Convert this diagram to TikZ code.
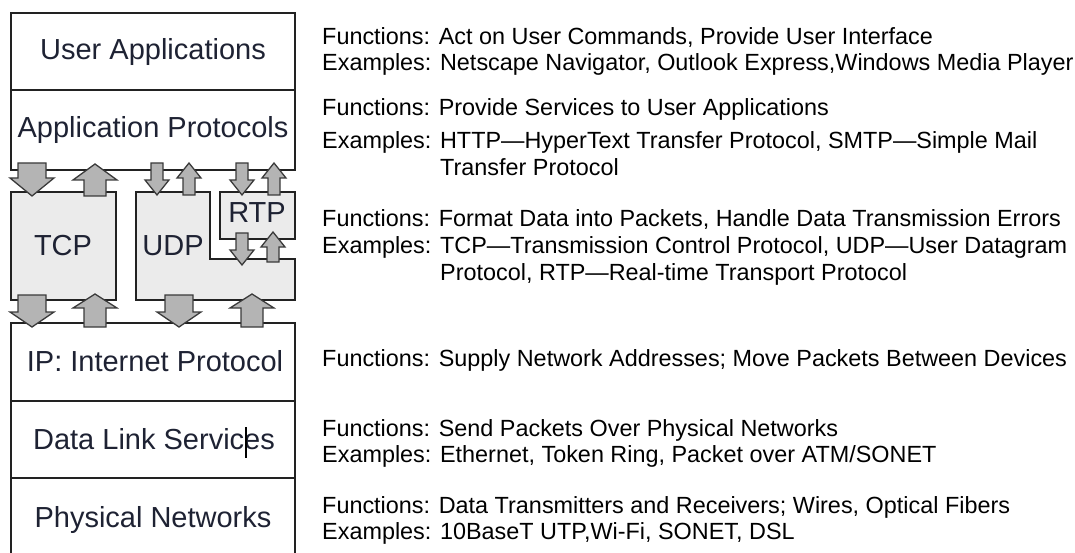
\documentclass[tikz,border=0pt]{standalone}
\usepackage{fontspec}
\setmainfont{Liberation Sans}
\definecolor{linec}{HTML}{222222}
\definecolor{boxfill}{HTML}{EBEBEB}
\definecolor{arrowfill}{HTML}{B4B4B4}
\definecolor{arrowline}{HTML}{3A3A3A}
\definecolor{labelc}{HTML}{1E2233}
\newcommand\blkarrow[6]{%
  \draw[barrow] (#1-#5,#2) -- (#1+#5,#2) -- (#1+#5,#3) -- (#1+#6,#3) -- (#1,#4) -- (#1-#6,#3) -- (#1-#5,#3) -- cycle;}
\begin{document}
\begin{tikzpicture}[x=1pt,y=-1pt,
  box/.style={draw=linec, line width=1.8pt},
  proto/.style={draw=linec, fill=boxfill, line width=1.8pt},
  lbl/.style={font=\fontsize{29}{33}\selectfont, text=labelc, inner sep=0pt, anchor=base},
  desc/.style={font=\fontsize{23.4}{27}\selectfont, text=black, inner sep=0pt, anchor=base west},
  barrow/.style={draw=arrowline, fill=arrowfill, line width=1.3pt, line join=miter}]
\useasboundingbox (0,0) rectangle (1075,553);
% stack boxes
\draw[box] (11,13) rectangle (295,170);
\draw[box] (11,90) -- (295,90);
\draw[box] (11,553) -- (11,323) -- (295,323) -- (295,553);
\draw[box] (11,401) -- (295,401);
\draw[box] (11,478) -- (295,478);
% transport boxes
\draw[proto] (11,192) rectangle (116,300);
\draw[proto] (136,192) -- (210,192) -- (210,259) -- (295,259) -- (295,300) -- (136,300) -- cycle;
\draw[proto] (220,192) rectangle (295,239);
% block arrows
\blkarrow{32}{163}{178}{196}{14}{22}
\blkarrow{95}{196}{180}{164}{11}{22}
\blkarrow{32}{295}{312}{327}{14}{22}
\blkarrow{95}{327}{308}{294}{11}{22}
\blkarrow{179}{295}{312}{327}{14}{22}
\blkarrow{252}{327}{308}{294}{11}{22}
\blkarrow{157}{163}{180}{195}{6}{12}
\blkarrow{189}{195}{178}{163}{6}{12}
\blkarrow{242}{163}{180}{195}{6}{12}
\blkarrow{274}{195}{178}{163}{6}{12}
\blkarrow{242}{233}{250}{265}{6}{12}
\blkarrow{273}{262}{247}{232}{6}{12}
% labels
\node[lbl] (ua) at (153,60) {User Applications};
\node[lbl] (ap) at (153,138) {Application Protocols};
\node[lbl] (tcp) at (63,255) {TCP};
\node[lbl] (udp) at (173,255) {UDP};
\node[lbl] (rtp) at (257,223) {RTP};
\node[lbl] (ip) at (155,371) {IP: Internet Protocol};
\node[lbl] (dl) at (154,449) {Data Link Services};
\node[lbl] (pn) at (153,527) {Physical Networks};
\draw[line width=1.2pt, black] (246,427) -- (246,458);
% descriptions
\node[desc] (f1) at (322,45) {Functions: Act on User Commands, Provide User Interface};
\node[desc] (e1) at (322,71) {Examples: Netscape Navigator, Outlook Express,Windows Media Player};
\node[desc] (f2) at (322,116) {Functions: Provide Services to User Applications};
\node[desc] (e2) at (322,149) {Examples: HTTP---HyperText Transfer Protocol, SMTP---Simple Mail};
\node[desc] (c2) at (440,176) {Transfer Protocol};
\node[desc] (f3) at (322,226) {Functions: Format Data into Packets, Handle Data Transmission Errors};
\node[desc] (e3) at (322,253) {Examples: TCP---Transmission Control Protocol, UDP---User Datagram};
\node[desc] (c3) at (440,280) {Protocol, RTP---Real-time Transport Protocol};
\node[desc] (f4) at (322,366) {Functions: Supply Network Addresses; Move Packets Between Devices};
\node[desc] (f5) at (322,436) {Functions: Send Packets Over Physical Networks};
\node[desc] (e5) at (322,462) {Examples: Ethernet, Token Ring, Packet over ATM/SONET};
\node[desc] (f6) at (322,513) {Functions: Data Transmitters and Receivers; Wires, Optical Fibers};
\node[desc] (e6) at (322,539) {Examples: 10BaseT UTP,Wi-Fi, SONET, DSL};
\end{tikzpicture}
\end{document}
